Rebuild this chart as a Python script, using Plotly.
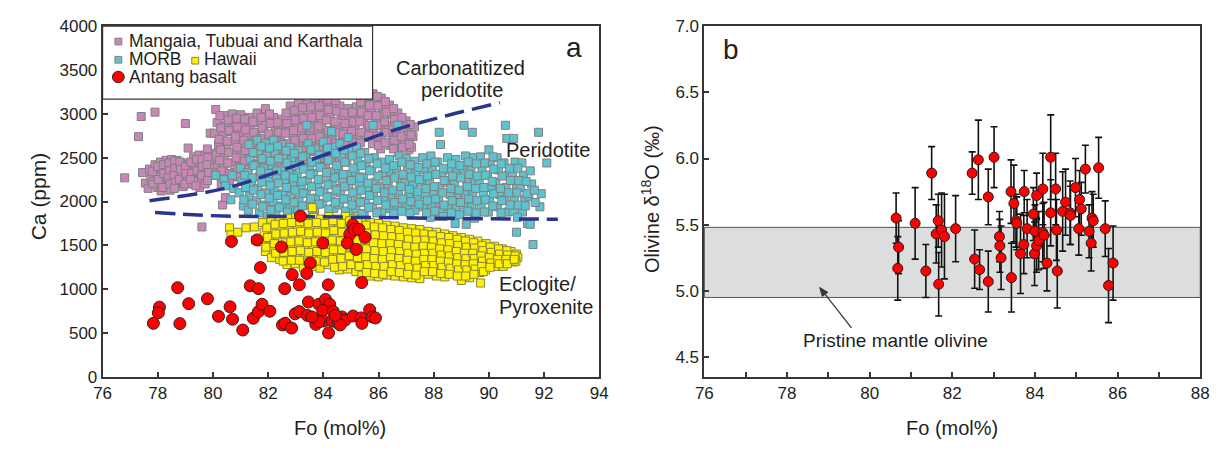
import plotly.graph_objects as go

W, H = 1228, 451
FONT = "Liberation Sans, Arial, Helvetica, sans-serif"
TXT = "#231f20"

# ---------------- Panel a data (Fo mol%, Ca ppm) ----------------
mangaia_pts = [
    (76.8,2270),(77.3,2740),(77.4,2970),(77.9,3020),(79.0,2890),(79.1,2610),(79.6,1710),(80.5,3230),
    (77.45,2330),(77.55,2210),(77.7,2370),(77.75,2260),(77.65,2150),
    (77.9,2420),(77.95,2310),(77.85,2230),(78.0,2160),
    (78.1,2450),(78.15,2350),(78.05,2280),(78.2,2200),(78.12,2120),
    (78.3,2470),(78.35,2390),(78.28,2310),(78.4,2240),(78.33,2170),
    (78.5,2480),(78.55,2400),(78.48,2330),(78.6,2260),(78.52,2190),(78.45,2130),
    (78.7,2470),(78.75,2410),(78.68,2350),(78.8,2280),(78.72,2210),
    (78.9,2440),(78.95,2370),(78.88,2300),(79.0,2240),(78.92,2170),
    (79.1,2420),(79.15,2350),(79.08,2280),(79.2,2200),
    (79.3,2510),(79.35,2390),(79.28,2310),(79.4,2230),
    (79.5,2530),(79.55,2400),(79.48,2330),(79.6,2250),(79.52,2160),
    (79.7,2520),(79.75,2440),(79.68,2360),(79.8,2280),(79.72,2200),
    (79.9,2780),(79.95,2550),(79.88,2470),(80.0,2380),(79.92,2300),
    (77.8,2340),(77.82,2200),(78.0,2400),(78.02,2250),(78.2,2420),(78.22,2320),(78.18,2160),
    (78.4,2440),(78.42,2350),(78.38,2270),(78.44,2200),(78.6,2460),(78.62,2380),(78.58,2300),
    (78.64,2220),(78.6,2150),(78.8,2450),(78.82,2370),(78.78,2250),(79.0,2400),(79.02,2320),
    (78.98,2200),(79.2,2450),(79.22,2320),(79.18,2250),(79.4,2480),(79.42,2350),(79.38,2180),
    (79.6,2480),(79.62,2400),(79.58,2300),(79.8,2600),(79.82,2500),(79.78,2420),(79.84,2330),(79.8,2240),
    (80.1,3050),(80.15,2900),(80.05,2780),(80.2,2650),(80.12,2530),(80.18,2420),(80.08,2300),
    (80.4,2980),(80.45,2870),(80.35,2750),(80.5,2620),(80.42,2500),(80.38,2380),(80.48,2260),
    (80.7,3000),(80.75,2900),(80.65,2800),(80.8,2680),(80.72,2560),(80.68,2440),(80.78,2330),
    (81.0,2990),(81.05,2880),(80.95,2760),(81.1,2640),(81.02,2520),(80.98,2400),
    (81.3,2960),(81.35,2850),(81.25,2730),(81.4,2610),(81.32,2490),(81.28,2380),
    (81.6,3010),(81.65,2900),(81.55,2780),(81.7,2670),(81.62,2550),(81.58,2430),
    (81.9,3060),(81.95,2950),(81.85,2830),(82.0,2710),(81.92,2590),(81.88,2470),
    (82.2,2960),(82.25,2850),(82.15,2740),(82.3,2620),(82.22,2500),
    (82.5,2940),(82.55,2830),(82.45,2720),(82.6,2600),(82.52,2480),
    (82.8,3090),(82.85,2980),(82.75,2870),(82.9,2760),(82.82,2640),(82.78,2520),(82.88,2400),
    (83.1,3130),(83.15,3020),(83.05,2900),(83.2,2790),(83.12,2670),(83.08,2550),(83.18,2430),
    (83.4,3110),(83.45,3000),(83.35,2880),(83.5,2770),(83.42,2650),(83.38,2530),
    (83.7,3150),(83.75,3040),(83.65,2930),(83.8,2810),(83.72,2690),(83.68,2570),(83.78,2450),
    (84.0,3130),(84.05,3020),(83.95,2910),(84.1,2790),(84.02,2670),(83.98,2550),(84.08,2430),
    (84.3,3200),(84.35,3080),(84.25,2960),(84.4,2840),(84.32,2720),(84.28,2600),(84.38,2480),(84.2,2200),
    (84.6,3090),(84.65,2980),(84.55,2860),(84.7,2740),(84.62,2620),(84.58,2500),(84.6,2150),
    (84.9,3060),(84.95,2950),(84.85,2830),(85.0,2710),(84.92,2590),
    (85.2,3080),(85.25,2970),(85.15,2860),(85.3,2740),(85.22,2620),
    (85.5,3180),(85.55,3070),(85.45,2960),(85.6,2850),(85.52,2730),
    (85.8,3230),(85.85,3120),(85.75,3010),(85.9,2900),(85.82,2780),(85.78,2660),
    (86.1,3180),(86.15,3060),(86.05,2950),(86.2,2830),(86.12,2700),(86.08,2600),
    (86.4,3100),(86.45,2990),(86.35,2870),(86.5,2750),(86.42,2640),
    (86.7,3010),(86.75,2900),(86.65,2780),(86.8,2660),(86.72,2560),
    (87.0,2920),(87.05,2800),(86.95,2690),(87.1,2590),
    (87.3,2850),(87.25,2740),(87.2,2620),
    (80.25,2980),(80.28,2840),(80.22,2710),(80.27,2590),(80.24,2470),(80.3,2350),(80.3,2200),
    (80.55,2930),(80.58,2810),(80.52,2690),(80.57,2560),(80.54,2440),(80.6,2320),(80.6,2210),
    (80.85,2950),(80.88,2850),(80.82,2740),(80.87,2620),(80.84,2500),(80.9,2380),(80.9,2280),
    (81.15,2940),(81.18,2820),(81.12,2700),(81.17,2580),(81.14,2460),(81.2,2330),
    (81.45,2910),(81.48,2790),(81.42,2670),(81.47,2550),(81.44,2430),
    (81.75,2960),(81.78,2840),(81.72,2720),(81.77,2610),(81.74,2490),
    (82.05,3000),(82.08,2890),(82.02,2770),(82.07,2650),(82.04,2530),
    (82.35,2900),(82.38,2790),(82.32,2680),(82.37,2560),(82.34,2440),
    (82.65,3010),(82.68,2890),(82.62,2780),(82.67,2660),(82.64,2540),
    (82.95,3040),(82.98,2930),(82.92,2810),(82.97,2700),(82.94,2580),(83.0,2460),
    (83.25,3070),(83.28,2950),(83.22,2840),(83.27,2720),(83.24,2600),(83.3,2480),
    (83.55,3080),(83.58,2960),(83.52,2840),(83.57,2720),(83.54,2600),
    (83.85,3090),(83.88,2980),(83.82,2860),(83.87,2740),(83.84,2620),(83.9,2500),
    (84.15,3160),(84.18,3050),(84.12,2930),(84.17,2810),(84.14,2690),(84.2,2570),
    (84.45,3150),(84.48,3030),(84.42,2910),(84.47,2790),(84.44,2670),(84.5,2550),
    (84.75,3010),(84.78,2890),(84.72,2770),(84.77,2650),(84.74,2530),
    (85.05,3020),(85.08,2910),(85.02,2800),(85.07,2680),(85.04,2560),
    (85.35,3130),(85.38,3020),(85.32,2910),(85.37,2790),(85.34,2670),
    (85.65,3200),(85.68,3100),(85.62,2980),(85.67,2870),(85.64,2750),
    (85.95,3200),(85.98,3090),(85.92,2980),(85.97,2870),(85.94,2750),(86.0,2640),
    (86.25,3140),(86.28,3020),(86.22,2910),(86.27,2790),(86.24,2670),
    (86.55,3060),(86.58,2940),(86.52,2820),(86.57,2700),(86.54,2600),
    (86.85,2960),(86.88,2850),(86.82,2740),(86.87,2620),
    (87.15,2880),(87.18,2760),(87.12,2650),
    (80.35,1960),(80.45,2045),(88.2,1830),(88.1,1950),
]

morb_pts = [
    (80.1,2300),(80.4,2250),(80.45,2180),(80.7,2300),(80.75,2150),(80.65,2020),
    (81.0,2380),(81.05,2230),(80.95,2100),(81.1,1950),
    (81.3,2650),(81.35,2480),(81.25,2330),(81.4,2200),(81.32,2060),(81.28,1900),
    (81.6,2700),(81.65,2560),(81.55,2420),(81.7,2290),(81.62,2150),(81.58,2010),(81.68,1870),
    (81.9,2660),(81.95,2520),(81.85,2380),(82.0,2240),(81.92,2100),(81.88,1960),(81.98,1830),
    (82.2,2700),(82.25,2560),(82.15,2420),(82.3,2280),(82.22,2140),(82.18,2000),(82.28,1880),
    (82.5,2650),(82.55,2510),(82.45,2370),(82.6,2230),(82.52,2090),(82.48,1950),
    (82.8,2620),(82.85,2480),(82.75,2340),(82.9,2200),(82.82,2060),(82.78,1920),
    (83.1,2580),(83.15,2440),(83.05,2300),(83.2,2160),(83.12,2020),(83.08,1890),
    (83.4,2870),(83.45,2660),(83.35,2520),(83.5,2380),(83.42,2240),(83.38,2100),(83.48,1960),
    (83.7,2600),(83.75,2460),(83.65,2320),(83.8,2180),(83.72,2040),(83.68,1900),
    (84.0,2680),(84.05,2540),(83.95,2400),(84.1,2260),(84.02,2120),(83.98,1980),
    (84.3,2800),(84.35,2620),(84.25,2480),(84.4,2340),(84.32,2200),(84.28,2060),(84.38,1920),
    (84.6,2660),(84.65,2520),(84.55,2380),(84.7,2240),(84.62,2100),(84.58,1960),
    (84.9,2730),(84.95,2590),(84.85,2450),(85.0,2310),(84.92,2170),(84.88,2030),(84.98,1890),
    (85.2,2620),(85.25,2480),(85.15,2340),(85.3,2200),(85.22,2060),(85.18,1920),
    (85.5,2560),(85.55,2420),(85.45,2280),(85.6,2140),(85.52,2000),(85.48,1860),
    (85.8,2870),(85.85,2500),(85.75,2360),(85.9,2220),(85.82,2080),(85.78,1940),
    (86.1,2450),(86.15,2310),(86.05,2170),(86.2,2030),(86.12,1890),
    (86.4,2480),(86.45,2340),(86.35,2200),(86.5,2060),(86.42,1920),
    (86.7,2870),(86.75,2520),(86.65,2380),(86.8,2240),(86.72,2100),(86.68,1960),
    (87.0,2490),(87.05,2350),(86.95,2210),(87.1,2070),(87.02,1930),
    (87.3,2460),(87.35,2320),(87.25,2180),(87.4,2040),(87.32,1900),
    (87.6,2500),(87.65,2360),(87.55,2220),(87.7,2080),(87.62,1940),
    (87.9,2520),(87.95,2380),(87.85,2240),(88.0,2100),(87.92,1960),(87.88,1820),
    (88.2,2790),(88.25,2650),(88.15,2450),(88.3,2310),(88.22,2170),(88.18,2030),(88.28,1890),
    (88.5,2500),(88.55,2360),(88.45,2220),(88.6,2080),(88.52,1940),
    (88.8,2480),(88.85,2340),(88.75,2200),(88.9,2060),(88.82,1920),(88.78,1750),
    (89.1,2870),(89.15,2520),(89.05,2380),(89.2,2240),(89.12,2100),(89.08,1960),(89.18,1740),
    (89.4,2790),(89.45,2500),(89.35,2360),(89.5,2220),(89.42,2080),(89.38,1940),(89.48,1810),
    (89.7,2510),(89.75,2370),(89.65,2230),(89.8,2090),(89.72,1950),
    (90.0,2590),(90.05,2440),(89.95,2300),(90.1,2160),(90.02,2020),(89.98,1880),
    (90.3,2500),(90.35,2360),(90.25,2220),(90.4,2080),(90.32,1940),
    (90.6,2870),(90.65,2720),(90.55,2440),(90.7,2300),(90.62,2160),(90.58,2020),(90.68,1880),
    (90.9,2720),(90.95,2450),(90.85,2310),(91.0,2170),(90.92,2030),(90.88,1890),(91.0,1650),
    (91.2,2440),(91.25,2300),(91.15,2160),(91.3,2020),(91.22,1880),(91.4,1750),
    (91.5,2350),(91.55,2200),(91.45,2060),(91.5,1740),(91.6,1510),
    (91.8,2790),(91.9,2090),(91.85,1940),(92.1,2440),
    (81.15,2300),(81.18,2160),(81.12,2020),
    (81.45,2560),(81.48,2410),(81.42,2270),(81.47,2130),(81.44,1970),
    (81.75,2630),(81.78,2490),(81.72,2350),(81.77,2220),(81.74,2080),(81.8,1940),
    (82.05,2610),(82.08,2460),(82.02,2320),(82.07,2180),(82.04,2040),(82.1,1900),
    (82.35,2630),(82.38,2490),(82.32,2350),(82.37,2210),(82.34,2070),(82.4,1930),
    (82.65,2580),(82.68,2440),(82.62,2300),(82.67,2160),(82.64,2020),(82.7,1880),
    (82.95,2550),(82.98,2410),(82.92,2270),(82.97,2130),(82.94,1990),
    (83.25,2510),(83.28,2370),(83.22,2230),(83.27,2090),(83.24,1950),
    (83.55,2590),(83.58,2450),(83.52,2310),(83.57,2170),(83.54,2030),(83.6,1890),
    (83.85,2530),(83.88,2390),(83.82,2250),(83.87,2110),(83.84,1970),
    (84.15,2610),(84.18,2470),(84.12,2330),(84.17,2190),(84.14,2050),(84.2,1910),
    (84.45,2550),(84.48,2410),(84.42,2270),(84.47,2130),(84.44,1990),
    (84.75,2590),(84.78,2450),(84.72,2310),(84.77,2170),(84.74,2030),(84.8,1890),
    (85.05,2520),(85.08,2380),(85.02,2240),(85.07,2100),(85.04,1960),
    (85.35,2550),(85.38,2410),(85.32,2270),(85.37,2130),(85.34,1990),(85.4,1860),
    (85.65,2490),(85.68,2350),(85.62,2210),(85.67,2070),(85.64,1930),
    (85.95,2430),(85.98,2290),(85.92,2150),(85.97,2010),(85.94,1870),
    (86.25,2380),(86.28,2240),(86.22,2100),(86.27,1960),
    (86.55,2410),(86.58,2270),(86.52,2130),(86.57,1990),(86.54,1860),
    (86.85,2450),(86.88,2310),(86.82,2170),(86.87,2030),(86.84,1890),
    (87.15,2420),(87.18,2280),(87.12,2140),(87.17,2000),(87.14,1870),
    (87.45,2390),(87.48,2250),(87.42,2110),(87.47,1970),
    (87.75,2430),(87.78,2290),(87.72,2150),(87.77,2010),(87.74,1870),
    (88.05,2450),(88.08,2310),(88.02,2170),(88.07,2030),(88.04,1890),
    (88.35,2380),(88.38,2240),(88.32,2100),(88.37,1960),(88.34,1830),
    (88.65,2430),(88.68,2290),(88.62,2150),(88.67,2010),(88.64,1870),
    (88.95,2410),(88.98,2270),(88.92,2130),(88.97,1990),(88.94,1850),
    (89.25,2450),(89.28,2310),(89.22,2170),(89.27,2030),(89.24,1890),
    (89.55,2430),(89.58,2290),(89.52,2150),(89.57,2010),(89.54,1870),
    (89.85,2440),(89.88,2300),(89.82,2160),(89.87,2020),(89.84,1880),
    (90.15,2510),(90.18,2370),(90.12,2230),(90.17,2090),(90.14,1950),
    (90.45,2430),(90.48,2290),(90.42,2150),(90.47,2010),(90.44,1870),
    (90.75,2380),(90.78,2240),(90.72,2100),(90.77,1960),
    (91.05,2380),(91.08,2240),(91.02,2100),(91.07,1960),(91.04,1820),
    (91.35,2230),(91.38,2090),(91.32,1950),
    (91.65,2130),(91.68,1990),
]

hawaii_pts = [
    (80.6,1700),(80.65,1620),(80.9,1650),(81.2,1700),(81.5,1710),(81.55,1560),
    (81.8,1760),(81.85,1650),(81.75,1540),(81.9,1430),
    (82.1,1800),(82.15,1690),(82.05,1580),(82.2,1470),(82.12,1360),
    (82.4,1780),(82.45,1670),(82.35,1560),(82.5,1450),(82.42,1340),
    (82.7,1810),(82.75,1700),(82.65,1590),(82.8,1480),(82.72,1370),(82.68,1280),
    (83.0,1820),(83.05,1710),(82.95,1600),(83.1,1490),(83.02,1380),(82.98,1290),
    (83.3,1800),(83.35,1690),(83.25,1580),(83.4,1470),(83.32,1360),(83.28,1250),
    (83.6,1930),(83.65,1820),(83.55,1710),(83.7,1600),(83.62,1490),(83.58,1380),(83.68,1260),
    (83.9,1800),(83.95,1690),(83.85,1580),(84.0,1470),(83.92,1360),(83.88,1240),
    (84.2,1830),(84.25,1720),(84.15,1610),(84.3,1500),(84.22,1390),(84.18,1280),
    (84.5,1800),(84.55,1700),(84.45,1600),(84.6,1500),(84.52,1400),(84.48,1300),(84.58,1220),
    (84.8,1830),(84.85,1730),(84.75,1630),(84.9,1530),(84.82,1430),(84.78,1330),(84.88,1230),
    (85.1,1810),(85.15,1710),(85.05,1610),(85.2,1510),(85.12,1410),(85.08,1310),(85.18,1200),
    (85.4,1780),(85.45,1690),(85.35,1600),(85.5,1510),(85.42,1420),(85.38,1330),(85.48,1240),(85.4,1160),
    (85.7,1760),(85.75,1670),(85.65,1580),(85.8,1490),(85.72,1400),(85.68,1310),(85.78,1220),(85.7,1150),
    (86.0,1750),(86.05,1660),(85.95,1570),(86.1,1480),(86.02,1390),(85.98,1300),(86.08,1210),(86.0,1140),
    (86.3,1730),(86.35,1640),(86.25,1560),(86.4,1480),(86.32,1400),(86.28,1320),(86.38,1240),(86.3,1160),
    (86.6,1720),(86.65,1640),(86.55,1560),(86.7,1480),(86.62,1400),(86.58,1320),(86.68,1240),(86.6,1150),
    (86.9,1700),(86.95,1620),(86.85,1540),(87.0,1460),(86.92,1380),(86.88,1300),(86.98,1220),(86.9,1140),
    (87.2,1690),(87.25,1610),(87.15,1530),(87.3,1450),(87.22,1370),(87.18,1290),(87.28,1210),(87.2,1130),
    (87.5,1680),(87.55,1600),(87.45,1520),(87.6,1440),(87.52,1360),(87.48,1280),(87.58,1200),(87.5,1120),
    (87.8,1660),(87.85,1590),(87.75,1520),(87.9,1450),(87.82,1380),(87.78,1310),(87.88,1240),(87.8,1170),
    (88.1,1650),(88.15,1580),(88.05,1510),(88.2,1440),(88.12,1370),(88.08,1300),(88.18,1230),(88.1,1150),
    (88.4,1630),(88.45,1560),(88.35,1490),(88.5,1420),(88.42,1350),(88.38,1280),(88.48,1210),(88.4,1140),
    (88.7,1610),(88.75,1540),(88.65,1470),(88.8,1400),(88.72,1330),(88.68,1260),(88.78,1190),
    (89.0,1590),(89.05,1520),(88.95,1450),(89.1,1380),(89.02,1310),(88.98,1240),(89.08,1170),(89.0,1100),
    (89.3,1570),(89.35,1500),(89.25,1440),(89.4,1380),(89.32,1320),(89.28,1260),(89.38,1200),(89.3,1130),
    (89.6,1550),(89.65,1490),(89.55,1430),(89.7,1370),(89.62,1310),(89.58,1250),(89.68,1190),(89.7,1070),
    (89.9,1520),(89.95,1460),(89.85,1400),(90.0,1340),(89.92,1280),(89.88,1220),
    (90.2,1490),(90.25,1430),(90.15,1370),(90.3,1310),(90.22,1260),
    (90.5,1460),(90.55,1410),(90.45,1360),(90.6,1310),(90.52,1260),
    (90.8,1430),(90.85,1390),(90.75,1350),(90.9,1310),
    (91.0,1400),(91.05,1360),(90.98,1320),
    (81.95,1700),(81.98,1590),(81.92,1480),
    (82.25,1740),(82.28,1630),(82.22,1520),(82.27,1410),
    (82.55,1750),(82.58,1640),(82.52,1530),(82.57,1420),(82.54,1320),
    (82.85,1760),(82.88,1650),(82.82,1540),(82.87,1430),(82.84,1330),
    (83.15,1770),(83.18,1660),(83.12,1550),(83.17,1440),(83.14,1330),
    (83.45,1750),(83.48,1640),(83.42,1530),(83.47,1420),(83.44,1310),
    (83.75,1760),(83.78,1650),(83.72,1540),(83.77,1430),(83.74,1320),
    (84.05,1750),(84.08,1640),(84.02,1530),(84.07,1420),(84.04,1310),
    (84.35,1780),(84.38,1670),(84.32,1560),(84.37,1450),(84.34,1340),(84.4,1250),
    (84.65,1750),(84.68,1650),(84.62,1550),(84.67,1450),(84.64,1350),(84.7,1260),
    (84.95,1780),(84.98,1680),(84.92,1580),(84.97,1480),(84.94,1380),(85.0,1280),
    (85.25,1760),(85.28,1660),(85.22,1560),(85.27,1460),(85.24,1360),(85.3,1260),
    (85.55,1730),(85.58,1640),(85.52,1550),(85.57,1460),(85.54,1370),(85.6,1280),(85.56,1190),
    (85.85,1710),(85.88,1620),(85.82,1530),(85.87,1440),(85.84,1350),(85.9,1260),(85.86,1180),
    (86.15,1700),(86.18,1610),(86.12,1520),(86.17,1430),(86.14,1340),(86.2,1260),(86.16,1170),
    (86.45,1680),(86.48,1600),(86.42,1520),(86.47,1440),(86.44,1360),(86.5,1280),(86.46,1200),
    (86.75,1670),(86.78,1590),(86.72,1510),(86.77,1430),(86.74,1350),(86.8,1270),(86.76,1190),
    (87.05,1650),(87.08,1570),(87.02,1490),(87.07,1410),(87.04,1330),(87.1,1250),(87.06,1170),
    (87.35,1640),(87.38,1560),(87.32,1480),(87.37,1400),(87.34,1320),(87.4,1240),(87.36,1160),
    (87.65,1630),(87.68,1560),(87.62,1490),(87.67,1410),(87.64,1340),(87.7,1270),(87.66,1200),
    (87.95,1620),(87.98,1550),(87.92,1480),(87.97,1410),(87.94,1340),(88.0,1270),(87.96,1200),
    (88.25,1600),(88.28,1530),(88.22,1460),(88.27,1390),(88.24,1320),(88.3,1250),(88.26,1180),
    (88.55,1590),(88.58,1520),(88.52,1450),(88.57,1380),(88.54,1310),(88.6,1240),(88.56,1170),
    (88.85,1570),(88.88,1500),(88.82,1430),(88.87,1360),(88.84,1290),(88.9,1220),(88.86,1150),
    (89.15,1550),(89.18,1480),(89.12,1410),(89.17,1350),(89.14,1280),(89.2,1220),(89.16,1150),
    (89.45,1530),(89.48,1470),(89.42,1410),(89.47,1350),(89.44,1290),(89.5,1230),(89.46,1170),
    (89.75,1500),(89.78,1440),(89.72,1380),(89.77,1320),(89.74,1260),(89.8,1200),
    (90.05,1480),(90.08,1420),(90.02,1360),(90.07,1300),(90.04,1250),
    (90.35,1460),(90.38,1400),(90.32,1340),(90.37,1290),
    (90.65,1440),(90.68,1390),(90.62,1340),(90.67,1290),
    (90.95,1380),(90.92,1340),
]

antang_fo = [83.17,80.67,81.60,82.48,83.98,85.07,84.96,85.12,85.29,85.51,84.87,85.19,83.53,81.72,
             82.87,83.40,83.13,82.60,84.18,85.39,81.35,81.65,78.72,79.80,79.12,78.06,78.02,77.84,
             78.80,80.20,80.62,80.71,81.08,81.46,81.64,81.78,82.06,82.52,82.62,82.85,82.98,83.13,
             83.46,83.42,83.66,83.73,83.84,84.08,84.23,83.98,84.36,84.01,84.33,84.54,84.19,84.68,
             84.79,85.08,85.37,85.40,85.68,85.78,85.89,83.84,84.61,84.43,83.59]
antang_ca = [1834,1544,1562,1482,1526,1736,1627,1682,1682,1591,1526,1453,1297,1246,
             1166,1180,1050,1006,1050,1075,1039,1006,1017,890,835,795,730,610,
             607,690,799,657,534,668,741,828,748,592,610,556,719,745,
             854,701,665,599,828,883,828,756,745,636,636,610,501,683,
             647,694,672,610,766,683,672,628,592,701,683]

carb_fo = [77.7, 80.4, 82.3, 84.4, 86.5, 88.6, 90.4]
carb_ca = [2010, 2147, 2336, 2572, 2808, 2990, 3128]
perid_fo = [77.9, 78.9, 80.4, 83.7, 87.9, 92.5]
perid_ca = [1874, 1856, 1834, 1827, 1809, 1798]

# ---------------- Panel b data (Fo, d18O, 1 s.d.) ----------------
b_fo = [80.64,80.70,80.68,81.10,81.36,81.50,81.66,81.61,81.74,81.81,81.67,82.08,82.48,82.63,
        83.01,82.87,82.54,82.66,82.87,83.14,83.15,83.18,83.43,83.42,83.49,83.54,83.56,83.65,
        83.74,83.73,83.81,83.96,84.04,84.00,83.99,84.04,84.09,84.19,84.19,84.22,84.29,84.38,
        84.38,84.50,84.52,84.54,84.67,84.74,84.85,84.86,84.98,85.06,85.08,85.12,85.22,85.31,
        85.36,85.38,85.41,85.54,85.70,85.78,85.89]
b_d18o = [5.55,5.33,5.17,5.51,5.15,5.89,5.53,5.43,5.46,5.41,5.05,5.47,5.89,5.99,
          6.01,5.71,5.24,5.16,5.07,5.41,5.34,5.25,5.10,5.75,5.66,5.53,5.51,5.28,
          5.75,5.35,5.47,5.58,5.72,5.45,5.28,5.34,5.38,5.77,5.44,5.42,5.21,6.01,
          5.59,5.77,5.46,5.15,5.60,5.67,5.59,5.57,5.78,5.47,5.69,5.62,5.92,5.45,
          5.36,5.55,5.53,5.93,5.47,5.04,5.21]
b_err = [0.19,0.20,0.24,0.27,0.20,0.20,0.20,0.22,0.28,0.32,0.24,0.25,0.16,0.30,
         0.23,0.21,0.22,0.15,0.23,0.19,0.20,0.24,0.26,0.24,0.29,0.20,0.20,0.30,
         0.16,0.22,0.22,0.20,0.17,0.20,0.24,0.20,0.22,0.27,0.22,0.25,0.21,0.32,
         0.25,0.27,0.23,0.28,0.30,0.25,0.24,0.22,0.22,0.20,0.22,0.20,0.18,0.20,
         0.21,0.20,0.20,0.23,0.21,0.28,0.28]
band_lo, band_hi = 4.95, 5.48

# ---------------- figure ----------------
def px(x):
    return x / W

def py(y):
    return 1 - y / H

fig = go.Figure()

sq = dict(symbol="square", size=8, line=dict(color="#808080", width=1))
fig.add_trace(go.Scatter(x=[p[0] for p in mangaia_pts], y=[p[1] for p in mangaia_pts], mode="markers",
                         marker=dict(color="#c987b8", **sq), xaxis="x", yaxis="y", showlegend=False))
fig.add_trace(go.Scatter(x=[p[0] for p in morb_pts], y=[p[1] for p in morb_pts], mode="markers",
                         marker=dict(color="#5ec3ce", **sq), xaxis="x", yaxis="y", showlegend=False))
fig.add_trace(go.Scatter(x=[p[0] for p in hawaii_pts], y=[p[1] for p in hawaii_pts], mode="markers",
                         marker=dict(color="#fff200", symbol="square", size=8,
                                     line=dict(color="#8a8440", width=1)),
                         xaxis="x", yaxis="y", showlegend=False))
dash_line = dict(color="#2b3491", width=3.5, dash="20px,8px", shape="spline")
fig.add_trace(go.Scatter(x=carb_fo, y=carb_ca, mode="lines", line=dash_line, xaxis="x", yaxis="y",
                         showlegend=False))
fig.add_trace(go.Scatter(x=perid_fo, y=perid_ca, mode="lines", line=dash_line, xaxis="x", yaxis="y",
                         showlegend=False))
fig.add_trace(go.Scatter(x=antang_fo, y=antang_ca, mode="markers",
                         marker=dict(color="#ff0000", size=12, line=dict(color="#3a2020", width=1)),
                         xaxis="x", yaxis="y", showlegend=False))

fig.add_trace(go.Scatter(x=b_fo, y=b_d18o, mode="markers",
                         error_y=dict(type="data", array=b_err, color="#111111", thickness=1.6, width=3.5),
                         marker=dict(color="#ff0000", size=10, line=dict(color="#2a1a1a", width=1)),
                         xaxis="x2", yaxis="y2", showlegend=False))

axis_common = dict(showline=True, linecolor="#3c3434", linewidth=1.8, mirror=True, ticks="inside",
                   ticklen=5, tickwidth=1.5, tickcolor="#3c3434", showgrid=False, zeroline=False,
                   tickfont=dict(family=FONT, size=17, color=TXT))

fig.update_layout(
    width=W, height=H, margin=dict(l=0, r=0, t=0, b=0),
    paper_bgcolor="white", plot_bgcolor="white",
    xaxis=dict(domain=[px(95), px(599)], range=[76, 94], tickvals=list(range(76, 95, 2)),
               anchor="y", **axis_common),
    yaxis=dict(domain=[py(384), py(18)], range=[0, 4000], tickvals=list(range(0, 4001, 500)),
               anchor="x", **axis_common),
    xaxis2=dict(domain=[px(705.7), px(1209)], range=[76, 88], tickvals=list(range(76, 89, 2)),
                minor=dict(ticks="inside", tick0=76, dtick=1, ticklen=5, tickwidth=1.5,
                           tickcolor="#3c3434", showgrid=False),
                anchor="y2", **axis_common),
    yaxis2=dict(domain=[py(384), py(18)], range=[4.35, 7.0],
                tickvals=[4.5, 5.0, 5.5, 6.0, 6.5, 7.0],
                ticktext=["4.5", "5.0", "5.5", "6.0", "6.5", "7.0"],
                anchor="x2", **axis_common),
)

shapes = []
shapes.append(dict(type="rect", xref="x2 domain", yref="y2", x0=0, x1=1, y0=band_lo, y1=band_hi,
                   fillcolor="#dcdddd", line=dict(color="#555555", width=1), layer="below"))
shapes.append(dict(type="rect", xref="paper", yref="paper", x0=px(95), x1=px(369), y0=py(94), y1=py(18),
                   fillcolor="white", line=dict(color="#3c3434", width=1.2), layer="above"))

def sqshape(cx, cy, fill, edge):
    s = 3.5
    return dict(type="rect", xref="paper", yref="paper", x0=px(cx - s), x1=px(cx + s), y0=py(cy + s),
                y1=py(cy - s), fillcolor=fill, line=dict(color=edge, width=1), layer="above")
shapes.append(sqshape(111, 34, "#c987b8", "#808080"))
shapes.append(sqshape(111, 53, "#5ec3ce", "#808080"))
shapes.append(sqshape(189, 54, "#fff200", "#8a8440"))
shapes.append(dict(type="circle", xref="paper", yref="paper", x0=px(105), x1=px(117), y0=py(77), y1=py(65),
                   fillcolor="#ff0000", line=dict(color="#3a2020", width=1), layer="above"))

# arrow pointing at the pristine-mantle band (line + head)
shapes.append(dict(type="line", xref="paper", yref="paper", x0=px(855), y0=py(333), x1=px(827), y1=py(296),
                   line=dict(color="#3a3a3a", width=1.3)))
head = [(822.7, 290.7), (831.0, 295.8), (825.4, 300.0)]
path = "M {} {} L {} {} L {} {} Z".format(*[v for p in head for v in (px(p[0]), py(p[1]))])
shapes.append(dict(type="path", xref="paper", yref="paper", path=path, fillcolor="#3a3a3a",
                   line=dict(color="#3a3a3a", width=1)))
fig.update_layout(shapes=shapes)

ann = []
def txt(x, y, s, size, xanchor="center", yanchor="middle", angle=0):
    ann.append(dict(x=px(x), y=py(y), xref="paper", yref="paper", text=s, showarrow=False,
                    xanchor=xanchor, yanchor=yanchor, textangle=angle,
                    font=dict(family=FONT, size=size, color=TXT)))

txt(120, 33, "Mangaia, Tubuai and Karthala", 17.5, xanchor="left")
txt(120, 52, "MORB", 17.5, xanchor="left")
txt(196, 52, "Hawaii", 17.5, xanchor="left")
txt(120, 71, "Antang basalt", 17.5, xanchor="left")

txt(458, 62, "Carbonatitized", 20)
txt(460, 85, "peridotite", 20)
txt(548, 147, "Peridotite", 20)
txt(495, 287, "Eclogite/", 20, xanchor="left")
txt(495, 311, "Pyroxenite", 20, xanchor="left")
txt(573, 40, "a", 28)
txt(733, 42, "b", 28)

txt(336, 437, "Fo (mol%)", 20)
txt(957, 437, "Fo (mol%)", 20)
txt(30, 196, "Ca (ppm)", 21, angle=-90)
txt(651, 198, "Olivine δ<sup>18</sup>O (‰)", 20, angle=-90)
txt(900, 346, "Pristine mantle olivine", 19)
fig.update_layout(annotations=ann)

fig.write_html("out.html")
